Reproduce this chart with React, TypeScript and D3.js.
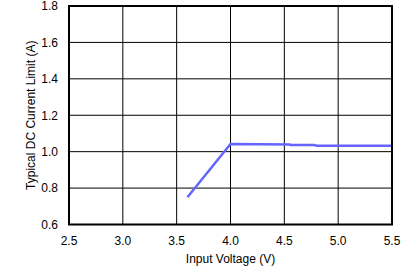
import React from "react";
import * as d3 from "d3";

const xTicks = [2.5, 3.0, 3.5, 4.0, 4.5, 5.0, 5.5];
const yTicks = [0.6, 0.8, 1.0, 1.2, 1.4, 1.6, 1.8];
const voltage = [3.6, 4.0, 4.55, 4.56, 4.78, 4.8, 5.5];
const current = [0.75, 1.042, 1.04, 1.036, 1.036, 1.033, 1.033];

export default function App() {
  const W = 407, H = 267;
  const left = 69, right = 392, top = 6, bottom = 224.5;
  const x = d3.scaleLinear().domain([2.5, 5.5]).range([left, right]);
  const y = d3.scaleLinear().domain([0.6, 1.8]).range([bottom, top]);
  const pts = voltage.map((v, i) => [v, current[i]] as [number, number]);
  const line = d3.line<[number, number]>().x(d => x(d[0])).y(d => y(d[1]));
  const font = "'Liberation Sans', Arial, Helvetica, sans-serif";
  return (
    <svg width={W} height={H} style={{ position: "absolute", left: 0, top: 0, background: "#fff" }}>
      <rect x={0} y={0} width={W} height={H} fill="#fff" />
      {xTicks.slice(1, -1).map(t => (
        <line key={"gx" + t} x1={x(t)} x2={x(t)} y1={top} y2={bottom} stroke="#000" strokeWidth={1} />
      ))}
      {yTicks.slice(1, -1).map(t => (
        <line key={"gy" + t} x1={left} x2={right} y1={y(t)} y2={y(t)} stroke="#000" strokeWidth={1} />
      ))}
      <path d={line(pts) || ""} fill="none" stroke="#6464ff" strokeWidth={2.5} strokeLinejoin="miter" />
      <rect x={left} y={top} width={right - left} height={bottom - top} fill="none" stroke="#000" strokeWidth={2} />
      {xTicks.map(t => (
        <text key={"tx" + t} x={x(t)} y={245} textAnchor="middle" fontFamily={font} fontSize={12} fill="#000">
          {t.toFixed(1)}
        </text>
      ))}
      {yTicks.map(t => (
        <text key={"ty" + t} x={58} y={y(t) + 4.3} textAnchor="end" fontFamily={font} fontSize={12} fill="#000">
          {t.toFixed(1)}
        </text>
      ))}
      <text x={(left + right) / 2} y={263} textAnchor="middle" fontFamily={font} fontSize={12} fill="#000">
        Input Voltage (V)
      </text>
      <text transform={`translate(34.5,${(top + bottom) / 2}) rotate(-90)`} textAnchor="middle" fontFamily={font} fontSize={12} fill="#000">
        Typical DC Current Limit (A)
      </text>
    </svg>
  );
}
